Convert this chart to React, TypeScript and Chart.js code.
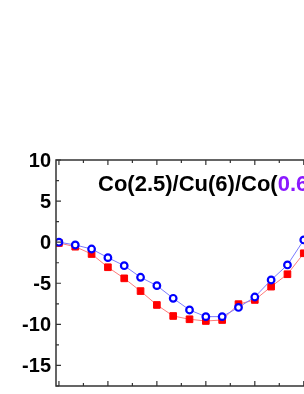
import React, { useEffect, useRef } from "react";
import { Chart, registerables } from "chart.js";

Chart.register(...registerables);

const xValues = [0, 1, 2, 3, 4, 5, 6, 7, 8, 9, 10, 11, 12, 13, 14, 15];
const blueValues = [0, -0.34, -0.83, -1.88, -2.86, -4.27, -5.29, -6.83, -8.25, -9.06, -9.06, -7.94, -6.67, -4.6, -2.77, 0.27];
const redValues = [-0.1, -0.55, -1.44, -3.05, -4.4, -5.95, -7.64, -8.98, -9.38, -9.59, -9.47, -7.54, -7.03, -5.41, -3.9, -1.35];
const yTickLabels = [10, 5, 0, -5, -10, -15];
const yMinorTicks = [7.5, 2.5, -2.5, -7.5, -12.5, -17.5];
const xMajorTicks = [0, 3, 6, 9, 12, 15, 18];
const xMinorTicks = [1.5, 4.5, 7.5, 10.5, 13.5, 16.5];
const titleParts = [
  { text: "Co(2.5)/Cu(6)/Co(", color: "#000000" },
  { text: "0.6", color: "#8B1AFF" },
  { text: ")", color: "#000000" },
];

const framePlugin = {
  id: "frame",
  afterDraw(chart: any) {
    const { ctx, chartArea } = chart;
    const xs = chart.scales.x;
    const ys = chart.scales.y;
    const { left, right, top, bottom } = chartArea;
    ctx.save();
    ctx.strokeStyle = "#333333";
    ctx.lineWidth = 1.5;
    ctx.beginPath();
    ctx.rect(left, top, right - left, bottom - top);
    ctx.stroke();
    ctx.lineWidth = 1.2;
    ctx.beginPath();
    const major = 5;
    const minor = 3;
    yTickLabels.forEach((v) => {
      const y = ys.getPixelForValue(v);
      ctx.moveTo(left, y);
      ctx.lineTo(left + major, y);
      ctx.moveTo(right, y);
      ctx.lineTo(right - major, y);
    });
    yMinorTicks.forEach((v) => {
      const y = ys.getPixelForValue(v);
      ctx.moveTo(left, y);
      ctx.lineTo(left + minor, y);
      ctx.moveTo(right, y);
      ctx.lineTo(right - minor, y);
    });
    xMajorTicks.forEach((v) => {
      const x = xs.getPixelForValue(v);
      ctx.moveTo(x, bottom);
      ctx.lineTo(x, bottom - major);
      ctx.moveTo(x, top);
      ctx.lineTo(x, top + major);
    });
    xMinorTicks.forEach((v) => {
      const x = xs.getPixelForValue(v);
      ctx.moveTo(x, bottom);
      ctx.lineTo(x, bottom - minor);
      ctx.moveTo(x, top);
      ctx.lineTo(x, top + minor);
    });
    ctx.stroke();

    ctx.fillStyle = "#000000";
    ctx.font = "bold 20px 'Liberation Sans', Arial, sans-serif";
    ctx.textAlign = "right";
    ctx.textBaseline = "middle";
    yTickLabels.forEach((v) => {
      const y = ys.getPixelForValue(v);
      ctx.fillText(String(v), left - 5, y + 1);
    });

    ctx.font = "bold 22px 'Liberation Sans', Arial, sans-serif";
    ctx.textAlign = "left";
    ctx.textBaseline = "alphabetic";
    let tx = left + 42;
    const ty = top + 31;
    titleParts.forEach((p) => {
      ctx.fillStyle = p.color;
      ctx.fillText(p.text, tx, ty);
      tx += ctx.measureText(p.text).width;
    });
    ctx.restore();
  },
};

export default function App() {
  const ref = useRef<HTMLCanvasElement | null>(null);
  useEffect(() => {
    if (!ref.current) return;
    const chart = new Chart(ref.current, {
      type: "line",
      data: {
        datasets: [
          {
            label: "blue",
            data: xValues.map((x, i) => ({ x, y: blueValues[i] })),
            borderColor: "#7a7aff",
            borderWidth: 1,
            pointStyle: "circle",
            pointRadius: 3.3,
            pointBorderWidth: 2.2,
            pointBorderColor: "#0000ff",
            pointBackgroundColor: "#ffffff",
            tension: 0,
          },
          {
            label: "red",
            data: xValues.map((x, i) => ({ x, y: redValues[i] })),
            borderColor: "#ff7a7a",
            borderWidth: 1,
            pointStyle: "rect",
            pointRadius: 4.7,
            pointBorderWidth: 1,
            pointBorderColor: "#ff0000",
            pointBackgroundColor: "#ff0000",
            tension: 0,
          },
        ],
      },
      options: {
        animation: false,
        responsive: false,
        maintainAspectRatio: false,
        layout: { padding: { left: 56, top: 160, right: 48, bottom: 8 } },
        plugins: { legend: { display: false }, tooltip: { enabled: false }, title: { display: false } },
        scales: {
          x: { type: "linear", min: -0.18, max: 19.18, display: false },
          y: { type: "linear", min: -17.5, max: 10, display: false },
        },
      },
      plugins: [framePlugin],
    });
    return () => chart.destroy();
  }, []);
  return (
    <div style={{ position: "fixed", left: 0, top: 0, width: 304, height: 394, overflow: "hidden", background: "#ffffff" }}>
      <canvas ref={ref} width={420} height={394} style={{ display: "block", width: 420, height: 394 }} />
    </div>
  );
}
